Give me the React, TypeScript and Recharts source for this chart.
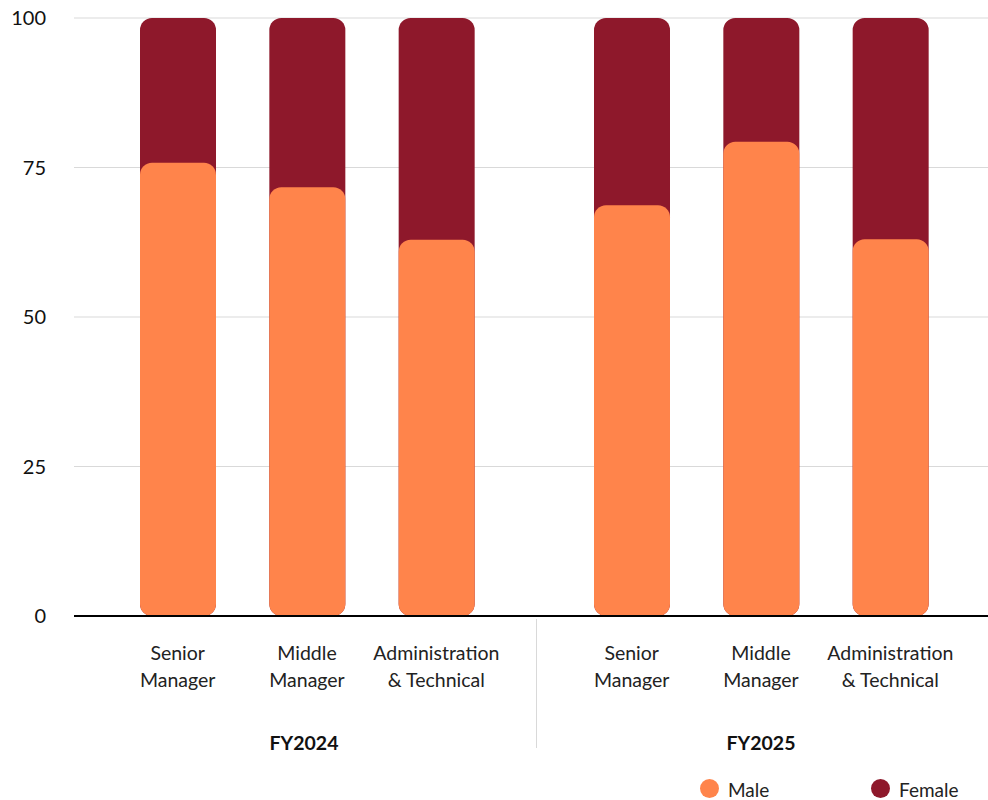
import { BarChart, Bar, XAxis, YAxis, CartesianGrid } from 'recharts'

const categories = ['Senior Manager', 'Middle Manager', 'Administration & Technical']
const maleFY2024 = [75.8, 71.7, 62.9]
const femaleFY2024 = [24.2, 28.3, 37.1]
const maleFY2025 = [68.7, 79.3, 63.0]
const femaleFY2025 = [31.3, 20.7, 37.0]
const yTicks = [0, 25, 50, 75, 100]

const MALE = '#FF844B'
const FEMALE = '#8E182B'
const FONT = 'Lato, "Noto Sans", sans-serif'

const build = (male: number[], female: number[]) =>
  categories.map((name, i) => ({ name, male: male[i], total: male[i] + female[i] }))

const data2024 = build(maleFY2024, femaleFY2024)
const data2025 = build(maleFY2025, femaleFY2025)

const CatTick = ({ x, y, payload }: any) => {
  const [first, ...rest] = String(payload.value).split(' ')
  return (
    <text x={x} y={y} textAnchor="middle" fontSize={19.5} fill="#222" fontFamily={FONT}>
      <tspan x={x} dy={36}>{first}</tspan>
      <tspan x={x} dy={27}>{rest.join(' ')}</tspan>
    </text>
  )
}

function Group({ data, label, width, showY, padding }: any) {
  return (
    <BarChart
      width={width}
      height={800}
      data={data}
      margin={{ top: 18, right: 0, bottom: 40, left: 0 }}
      barGap={-76}
      style={{ fontFamily: FONT }}
    >
      <CartesianGrid vertical={false} stroke="#d9d9d9" />
      <XAxis
        dataKey="name"
        tick={<CatTick />}
        tickLine={false}
        axisLine={{ stroke: '#000', strokeWidth: 2 }}
        height={144}
        interval={0}
        padding={padding}
        label={{ value: label, position: 'insideBottom', offset: 10, fontSize: 19.5, fontWeight: 700, fill: '#111' }}
      />
      <YAxis
        domain={[0, 100]}
        ticks={yTicks}
        hide={!showY}
        width={showY ? 74 : 0}
        axisLine={false}
        tickLine={false}
        tickSize={0}
        tickMargin={28}
        tick={{ fontSize: 20, fill: '#111' }}
      />
      <Bar dataKey="total" name="Female" fill={FEMALE} barSize={76} radius={12} isAnimationActive={false} />
      <Bar dataKey="male" name="Male" fill={MALE} barSize={76} radius={12} isAnimationActive={false} />
    </BarChart>
  )
}

const legendItems = [
  { name: 'Male', color: MALE, left: 700 },
  { name: 'Female', color: FEMALE, left: 871 },
]

export default function App() {
  return (
    <div style={{ position: 'absolute', left: 0, top: 0, width: 988, height: 800, background: '#fff', fontFamily: FONT, overflow: 'hidden' }}>
      <div style={{ display: 'flex' }}>
        <Group data={data2024} label="FY2024" width={534} showY padding={{ left: 39, right: 33 }} />
        <Group data={data2025} label="FY2025" width={454} showY={false} padding={{ left: 33, right: 33 }} />
      </div>
      <div style={{ position: 'absolute', left: 536, top: 619, width: 1, height: 129, background: '#d9d9d9' }} />
      {legendItems.map((it) => (
        <div key={it.name}>
          <span style={{ position: 'absolute', left: it.left, top: 779, width: 19, height: 19, borderRadius: '50%', background: it.color }} />
          <span style={{ position: 'absolute', left: it.left + 28, top: 780, fontSize: 19, lineHeight: '19px', color: '#222' }}>{it.name}</span>
        </div>
      ))}
    </div>
  )
}
